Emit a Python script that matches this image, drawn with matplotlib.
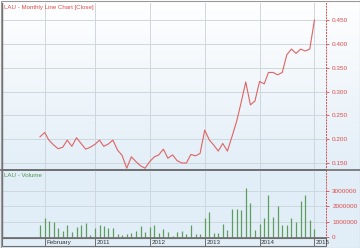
import numpy as np
import pandas as pd
import matplotlib
matplotlib.use('Agg')
import matplotlib.pyplot as plt
import matplotlib.dates as mdates
from matplotlib.transforms import blended_transform_factory, ScaledTranslation
from matplotlib.lines import Line2D
from matplotlib.patches import Rectangle

# ---------------- data ----------------
months = pd.date_range('2010-01-01', periods=61, freq='MS')
close = [0.205, 0.214, 0.198, 0.188, 0.180, 0.183, 0.198, 0.185, 0.203, 0.191,
         0.179, 0.183, 0.189, 0.198, 0.185, 0.190, 0.198, 0.177, 0.166, 0.139,
         0.163, 0.153, 0.144, 0.139, 0.153, 0.163, 0.167, 0.179, 0.160, 0.167,
         0.155, 0.150, 0.150, 0.168, 0.165, 0.170, 0.219, 0.198, 0.188, 0.175,
         0.191, 0.175, 0.205, 0.237, 0.278, 0.320, 0.272, 0.280, 0.321, 0.316,
         0.340, 0.340, 0.335, 0.340, 0.377, 0.389, 0.380, 0.389, 0.385, 0.389,
         0.450]
volume_m = [0.80, 1.22, 1.05, 0.98, 0.57, 0.41, 0.80, 0.34, 0.67, 0.76,
            0.90, 0.14, 0.60, 0.76, 0.69, 0.60, 0.57, 0.19, 0.12, 0.21,
            0.26, 0.39, 0.72, 0.35, 0.63, 0.78, 0.24, 0.50, 0.35, 0.07,
            0.35, 0.42, 0.20, 0.78, 0.22, 0.18, 1.22, 1.63, 0.26, 0.28,
            0.85, 0.48, 1.82, 1.86, 1.76, 3.18, 2.20, 0.46, 0.87, 1.22,
            2.74, 1.33, 2.03, 0.78, 0.78, 1.22, 1.00, 2.35, 2.74, 1.11,
            0.52]
volume = [v * 1e6 for v in volume_m]
price_ticks = [0.150, 0.200, 0.250, 0.300, 0.350, 0.400, 0.450]
volume_ticks = [0, 1000000, 2000000, 3000000]
xtick_dates = ['2010-02-01', '2011-01-01', '2012-01-01', '2013-01-01', '2014-01-01', '2015-01-01']
xtick_labels = ['February', '2011', '2012', '2013', '2014', '2015']

# ---------------- figure ----------------
W, H = 360, 248
plt.rcParams['font.family'] = ['Liberation Sans', 'DejaVu Sans']
fig = plt.figure(figsize=(W / 100, H / 100), dpi=100)
fig.patch.set_facecolor('#e6f0f8')

# background gradient
bg = fig.add_axes([0, 0, 1, 1], zorder=-10)
top = np.array([1.0, 1.0, 1.0])
bot = np.array([0xe2, 0xee, 0xf7]) / 255
n = 248
grad = np.zeros((n, 1, 3))
for r in range(n):
    t = min(r / 170.0, 1.0)
    grad[r, 0] = top * (1 - t) + bot * t
bg.imshow(grad, aspect='auto', extent=[0, 1, 0, 1])
bg.axis('off')

red = '#dd4b4b'
line_red = '#e06363'
green = '#5c9e5c'
grid_c = '#cfd7de'
frame_c = '#6e6e6e'

ax1 = fig.add_axes([2 / W, 1 - 170 / H, 324 / W, 167 / H])
ax2 = fig.add_axes([2 / W, 1 - 238 / H, 324 / W, 68 / H], sharex=ax1)

x0 = mdates.date2num(pd.Timestamp('2010-01-01'))
x1 = mdates.date2num(pd.Timestamp('2015-01-01'))
ax1.set_xlim(x0 - 253, x1 + 77)
ax1.set_ylim(0.1353, 0.4857)
ax2.set_ylim(-0.065e6, 4.38e6)

gx = [mdates.date2num(pd.Timestamp(d)) for d in xtick_dates]

for ax in (ax1, ax2):
    ax.set_facecolor('none')
    ax.set_xticks(gx)
    ax.tick_params(axis='x', which='both', length=0, labelbottom=False)
    ax.grid(True, color=grid_c, lw=0.7)
    ax.set_axisbelow(True)
    ax.yaxis.tick_right()
    ax.tick_params(axis='y', length=2.5, width=0.6, color=red, labelcolor=red,
                   labelsize=4.6, pad=2)
    ax.spines['top'].set_visible(False)
    ax.spines['left'].set_color(frame_c)
    ax.spines['left'].set_linewidth(1.0)
    ax.spines['bottom'].set_color(frame_c)
    ax.spines['bottom'].set_linewidth(1.2)
    ax.spines['right'].set_color(red)
    ax.spines['right'].set_linewidth(0.7)
    ax.spines['right'].set_linestyle((0, (1, 2)))

ax1.plot(months, close, color=line_red, lw=0.8)
ax1.set_yticks(price_ticks)
ax1.set_yticklabels([f'{v:.3f}' for v in price_ticks])

ax2.vlines(months, 0, volume, color=green, lw=0.9)
ax2.set_yticks(volume_ticks)
ax2.set_yticklabels([str(v) for v in volume_ticks])

# titles
fig.text(4 / W, 1 - 7.5 / H, 'LAU - Monthly Line Chart [Close]', color=red,
         fontsize=4.4, va='center', ha='left')
fig.text(4 / W, 1 - 175.5 / H, 'LAU - Volume', color='#4f944f',
         fontsize=4.4, va='center', ha='left')

# separator across full width
fig.add_artist(Line2D([0, 1], [1 - 170 / H, 1 - 170 / H], color=frame_c, lw=1.2))

# date label strip
trans = blended_transform_factory(ax2.transData, fig.transFigure)
fig.add_artist(Rectangle((2 / W, 1 - 246 / H), 324 / W, 8 / H, fill=False,
                         edgecolor=frame_c, lw=0.8))
for d, lab in zip(gx, xtick_labels):
    fig.add_artist(Line2D([d, d], [1 - 246 / H, 1 - 238 / H], color=frame_c, lw=0.7,
                          transform=trans))
    fig.text(d, 1 - 242.2 / H, lab, transform=trans + ScaledTranslation(1.5 / 100, 0, fig.dpi_scale_trans),
             fontsize=4.5, color='#333333', va='center', ha='left')

# outer border
fig.add_artist(Rectangle((0.5 / W, 0.5 / H), (W - 1) / W, (H - 1) / H, fill=False,
                         edgecolor='#9a9a9a', lw=0.8))

fig.savefig('out.png', dpi=100, facecolor=fig.get_facecolor())
